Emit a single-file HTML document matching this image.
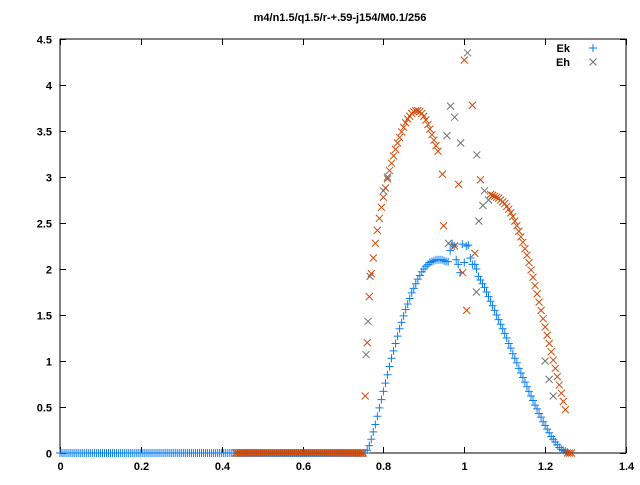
<!DOCTYPE html>
<html><head><meta charset="utf-8"><style>
html,body{margin:0;padding:0;background:#fff;}
svg text{font-family:"Liberation Sans",sans-serif;font-size:11px;font-weight:bold;fill:#000;}
</style></head><body>
<svg id="chart" width="640" height="480" xmlns="http://www.w3.org/2000/svg">
<text x="340" y="21" text-anchor="middle">m4/n1.5/q1.5/r-+.59-j154/M0.1/256</text>
<g id="axes"></g>
<g id="marks"></g>
<g>
<text x="570" y="52" text-anchor="end">Ek</text>
<text x="570" y="66" text-anchor="end">Eh</text>
</g>
</svg>
<script>
const xTicks=[0,0.2,0.4,0.6,0.8,1,1.2,1.4];
const xTickLabels=["0","0.2","0.4","0.6","0.8","1","1.2","1.4"];
const yTicks=[0,0.5,1,1.5,2,2.5,3,3.5,4,4.5];
const yTickLabels=["0","0.5","1","1.5","2","2.5","3","3.5","4","4.5"];
const step=0.005;
// Ek (blue +)
const ekZeroStart=0, ekZeroCount=152;
const ekRiseStart=0.76;
const ekRise=[0.03,0.08,0.15,0.23,0.31,0.4,0.49,0.58,0.67,0.76,0.85,0.94,1.03,1.11,1.19,1.27,1.35,1.42,1.49,1.56,1.62,1.68,1.74,1.79,1.84,1.89,1.93,1.97,2.0,2.03,2.05,2.07,2.08,2.09,2.1,2.1];
const ekMidX=[0.94,0.945,0.95,0.955,0.96,0.965,0.97,0.975,0.98,0.985,0.99,0.995,1.0,1.005,1.01,1.015,1.02,1.026,1.03,1.035];
const ekMidY=[2.1,2.1,2.09,2.08,2.08,2.2,2.27,2.25,2.1,2.05,1.96,2.27,2.07,2.25,2.26,2.12,2.05,2.05,2.0,1.92];
const ekFallStart=1.04;
const ekFall=[1.88,1.84,1.8,1.75,1.7,1.65,1.6,1.55,1.5,1.45,1.4,1.35,1.3,1.25,1.19,1.14,1.08,1.03,0.98,0.92,0.87,0.82,0.77,0.72,0.67,0.62,0.57,0.52,0.48,0.43,0.39,0.34,0.3,0.26,0.22,0.18,0.15,0.12,0.09,0.06,0.04,0.03,0.02,0.01];
// orange x series
const orZeroStart=0.435, orZeroCount=64;
const orZeroEndX=[1.255,1.26,1.265];
const orRiseStart=0.755;
const orRise=[0.62,1.2,1.7,1.95,2.12,2.28,2.42,2.55,2.67,2.78,2.88,2.98,3.07,3.15,3.23,3.3,3.37,3.43,3.49,3.54,3.59,3.63,3.66,3.69,3.71,3.72,3.72,3.71,3.69,3.66,3.62,3.57,3.52,3.46,3.4,3.34,3.28];
const orMidX=[0.946,0.949,1.02,1.0,0.986,1.04,0.976,1.026,0.996,1.006];
const orMidY=[3.03,2.47,3.78,4.27,2.92,2.97,2.25,2.17,1.96,1.55];
const orFallStart=1.065;
const orFall=[2.81,2.8,2.79,2.78,2.77,2.75,2.73,2.71,2.68,2.65,2.61,2.57,2.52,2.47,2.41,2.35,2.29,2.22,2.15,2.07,1.99,1.91,1.82,1.73,1.64,1.55,1.46,1.37,1.28,1.19,1.1,1.01,0.92,0.83,0.74,0.65,0.56,0.47];
// Eh (grey x)
const ehX=[0.757,0.762,0.767,0.8,0.81,0.966,0.976,0.957,0.991,1.008,1.031,1.05,1.046,1.036,0.961,1.03,1.06,1.2,1.21,1.22];
const ehY=[1.07,1.43,1.92,2.85,3.0,3.77,3.65,3.45,3.37,4.35,3.24,2.85,2.69,2.52,2.28,1.75,2.75,1.0,0.8,0.62];

const L=60,R=626,T=39,B=453;
const sx=v=>L+v*(R-L)/1.4, sy=v=>B-v*(B-T)/4.5;
const NS="http://www.w3.org/2000/svg";
const axes=document.getElementById('axes'), marks=document.getElementById('marks');
function mk(tag,attrs,parent){const e=document.createElementNS(NS,tag);for(const k in attrs)e.setAttribute(k,attrs[k]);parent.appendChild(e);return e;}
const frame=mk('rect',{x:L,y:T,width:R-L,height:B-T,fill:'none',stroke:'#000','stroke-width':1},axes);


xTicks.forEach((t,i)=>{const x=Math.round(sx(t))+0.5;
 const tk=mk('path',{d:`M${x} ${B}v-6M${x} ${T}v6`,stroke:'#000'},axes);
 
 
 const lb=mk('text',{x:x,y:B+17,'text-anchor':'middle'},axes);lb.textContent=xTickLabels[i];
 
 });
yTicks.forEach((t,i)=>{const y=Math.round(sy(t))+0.5;
 const tk=mk('path',{d:`M${L} ${y}h6M${R} ${y}h-6`,stroke:'#000'},axes);
 
 
 const lb=mk('text',{x:L-8,y:y+4,'text-anchor':'end'},axes);lb.textContent=yTickLabels[i];
 
 });
function plus(x,y,c,name){const p=mk('path',{d:`M${x-4} ${y}h8M${x} ${y-4}v8`,stroke:c,'stroke-width':1},marks);
 
 }
function cross(x,y,c,name){const p=mk('path',{d:`M${x-3.5} ${y-3.5}l7 7M${x-3.5} ${y+3.5}l7 -7`,stroke:c,'stroke-width':1},marks);
 
 }
const BL='#0a7ef0',OR='#d04a08',GR='#707070';
for(let i=0;i<ekZeroCount;i++)plus(sx(ekZeroStart+i*step),sy(0),BL,'ek-point');
ekRise.forEach((v,i)=>plus(sx(ekRiseStart+i*step),sy(v),BL,'ek-point'));
ekMidX.forEach((x,i)=>plus(sx(x),sy(ekMidY[i]),BL,'ek-point'));
ekFall.forEach((v,i)=>plus(sx(ekFallStart+i*step),sy(v),BL,'ek-point'));
for(let i=0;i<orZeroCount;i++)cross(sx(orZeroStart+i*step),sy(0),OR,'eh2-point');
orZeroEndX.forEach(x=>cross(sx(x),sy(0),OR,'eh2-point'));
orRise.forEach((v,i)=>cross(sx(orRiseStart+i*step),sy(v),OR,'eh2-point'));
orMidX.forEach((x,i)=>cross(sx(x),sy(orMidY[i]),OR,'eh2-point'));
orFall.forEach((v,i)=>cross(sx(orFallStart+i*step),sy(v),OR,'eh2-point'));
ehX.forEach((x,i)=>cross(sx(x),sy(ehY[i]),GR,'eh-point'));
plus(593,48,BL,'legend-marker-ek');
cross(593,62,GR,'legend-marker-eh');
</script>
</body></html>
